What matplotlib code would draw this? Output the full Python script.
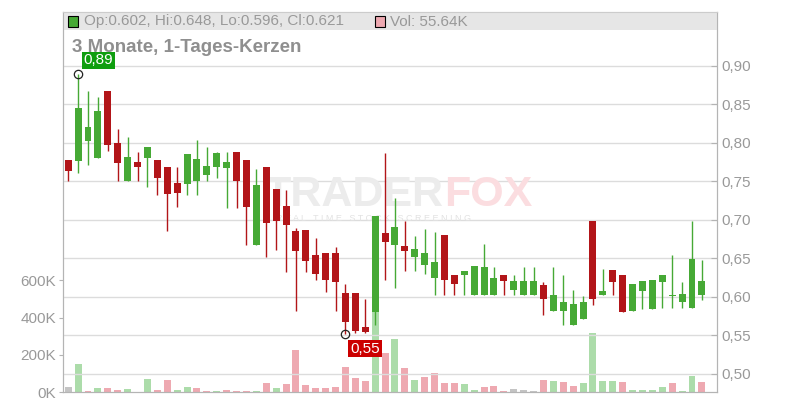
import numpy as np
import matplotlib.pyplot as plt
from matplotlib.patches import Rectangle

plt.rcParams['font.family'] = ['Liberation Sans', 'DejaVu Sans']

# daily candles, 12 Aug .. 10 Nov (trading days)
opens = [0.778, 0.777, 0.802, 0.781, 0.868, 0.800, 0.751, 0.775, 0.780, 0.778,
         0.769, 0.748, 0.747, 0.751, 0.758, 0.769, 0.768, 0.788, 0.778, 0.668,
         0.769, 0.740, 0.718, 0.686, 0.687, 0.655, 0.657, 0.657, 0.605, 0.605,
         0.561, 0.580, 0.683, 0.668, 0.666, 0.652, 0.642, 0.624, 0.681, 0.629,
         0.628, 0.602, 0.602, 0.602, 0.629, 0.609, 0.602, 0.602, 0.616, 0.582,
         0.582, 0.563, 0.572, 0.699, 0.602, 0.635, 0.629, 0.582, 0.608, 0.584,
         0.619, 0.601, 0.593, 0.586, 0.602]
highs = [0.778, 0.890, 0.868, 0.860, 0.868, 0.818, 0.808, 0.788, 0.795, 0.778,
         0.769, 0.769, 0.786, 0.804, 0.795, 0.788, 0.788, 0.788, 0.778, 0.766,
         0.769, 0.740, 0.739, 0.690, 0.687, 0.677, 0.657, 0.665, 0.617, 0.605,
         0.597, 0.705, 0.787, 0.729, 0.699, 0.679, 0.688, 0.684, 0.681, 0.629,
         0.634, 0.640, 0.669, 0.639, 0.629, 0.629, 0.639, 0.639, 0.620, 0.639,
         0.629, 0.609, 0.601, 0.699, 0.636, 0.635, 0.629, 0.617, 0.621, 0.622,
         0.629, 0.655, 0.620, 0.699, 0.648]
lows = [0.751, 0.761, 0.772, 0.781, 0.790, 0.751, 0.751, 0.751, 0.743, 0.732,
        0.686, 0.717, 0.732, 0.732, 0.750, 0.754, 0.716, 0.716, 0.668, 0.668,
        0.652, 0.661, 0.633, 0.582, 0.632, 0.622, 0.606, 0.582, 0.552, 0.553,
        0.553, 0.563, 0.622, 0.612, 0.634, 0.634, 0.630, 0.602, 0.602, 0.602,
        0.602, 0.602, 0.602, 0.602, 0.602, 0.602, 0.602, 0.602, 0.576, 0.582,
        0.563, 0.563, 0.572, 0.590, 0.602, 0.602, 0.580, 0.582, 0.584, 0.584,
        0.586, 0.586, 0.586, 0.586, 0.596]
closes = [0.764, 0.845, 0.821, 0.842, 0.798, 0.774, 0.782, 0.769, 0.795, 0.754,
          0.734, 0.735, 0.786, 0.779, 0.770, 0.787, 0.775, 0.750, 0.717, 0.745,
          0.696, 0.699, 0.693, 0.660, 0.647, 0.630, 0.622, 0.619, 0.567, 0.556,
          0.554, 0.705, 0.672, 0.691, 0.660, 0.662, 0.657, 0.645, 0.622, 0.617,
          0.634, 0.640, 0.639, 0.625, 0.621, 0.621, 0.621, 0.621, 0.597, 0.603,
          0.594, 0.591, 0.594, 0.598, 0.608, 0.619, 0.580, 0.617, 0.621, 0.622,
          0.629, 0.602, 0.604, 0.649, 0.621]
volumes_k = [28.6, 152, 7, 23, 23, 12.5, 18, 1.5, 71, 12.5,
             66, 12.5, 29, 23, 7, 7, 12.5, 7, 7, 7,
             50, 23, 45, 227, 39, 23, 23, 29, 136, 77,
             61, 520, 213, 286, 130, 66, 82, 104, 50, 50,
             45, 12.5, 29, 34, 7, 18, 12.5, 7, 66, 61,
             55, 34, 50, 318, 61, 61, 55, 12.5, 12.5, 12.5,
             29, 50, 7, 88, 55.64]

tick_pos = [1, 15, 25, 37, 47, 59]
tick_labels = ['13. Aug', '2. Sep', '16', '2. Okt', '16', '3. Nov']
price_ticks = [0.50, 0.55, 0.60, 0.65, 0.70, 0.75, 0.80, 0.85, 0.90]
vol_ticks = [0, 200, 400, 600]
vol_labels = ['0K', '200K', '400K', '600K']

GREEN = '#46a935'
RED = '#b21519'
VGREEN = '#acdcaa'
VRED = '#eea9b1'
VGRAY = '#c4c4c4'
TXT = '#999999'

o = np.array(opens); h = np.array(highs); l = np.array(lows); c = np.array(closes)
v = np.array(volumes_k)
x = np.arange(len(o))

fig = plt.figure(figsize=(8, 4.2), dpi=100)
axv = fig.add_axes([0.0791, 0.066, 0.8168, 0.9054])
ax = axv.twinx()
ax.set_zorder(2)
axv.set_zorder(1)
ax.patch.set_visible(False)

# volume
diff = np.diff(c, prepend=np.nan)
vcol = [VGRAY if np.isnan(d) or d == 0 else (VGREEN if d > 0 else VRED) for d in diff]
axv.bar(x, v, width=0.7, color=vcol)
axv.set_ylim(0, 2037)
axv.set_yticks(vol_ticks)
axv.set_yticklabels(vol_labels)

# candles
ccol = [GREEN if cc >= oo else RED for oo, cc in zip(o, c)]
ax.vlines(x, l, h, colors=ccol, linewidth=1, zorder=3)
body = np.maximum(np.abs(c - o), 0.0012)
ax.bar(x, body, bottom=np.minimum(o, c), width=0.7, color=ccol, zorder=4)

ax.set_xlim(-0.5, 65.5)
ax.set_ylim(0.4762, 0.9701)
ax.set_yticks(price_ticks)
ax.set_yticklabels([f'{t:.2f}'.replace('.', ',') for t in price_ticks])
ax.set_xticks(tick_pos)
ax.set_xticklabels(tick_labels)
ax.grid(True, color='#dcdcdc', linewidth=1)
ax.set_axisbelow(True)

for a in (ax, axv):
    for s in a.spines.values():
        s.set_color('#b4b4b4')
    a.spines['top'].set_color('#cccccc')
ax.tick_params(axis='y', direction='in', length=4, color='#b4b4b4', labelcolor=TXT, labelsize=11, pad=3)
axv.tick_params(axis='y', direction='out', length=3, color='#b4b4b4', labelcolor=TXT, labelsize=11, pad=2)
axv.tick_params(axis='x', length=0, labelbottom=False)
ax.tick_params(axis='x', direction='out', length=3, color='#b4b4b4', labelcolor=TXT, labelsize=11, pad=2)
for t in ax.get_xticklabels():
    t.set_fontweight('bold')

# watermark
ax.text(0.308, 0.52, 'TRADER', transform=ax.transAxes, fontsize=31, fontweight='bold',
        color='#ececec', va='center', ha='left', zorder=1)
ax.text(0.583, 0.52, 'FOX', transform=ax.transAxes, fontsize=31, fontweight='bold',
        color='#fbdde0', va='center', ha='left', zorder=1)
ax.text(0.325, 0.456, 'R E A L   T I M E   S T O C K   S C R E E N I N G', transform=ax.transAxes,
        fontsize=6.5, color='#e2e2e2', va='center', ha='left', zorder=1)

# header band and legend
ax.add_patch(Rectangle((0, 1 - 0.0473), 1, 0.0473, transform=ax.transAxes,
                       facecolor='#e6e6e6', edgecolor='none', zorder=0.4))
fig.add_artist(Rectangle((68 / 800, 1 - 26.5 / 420), 10 / 800, 10 / 420, transform=fig.transFigure,
                         facecolor=GREEN, edgecolor='black', lw=0.8, zorder=5))
fig.text(84 / 800, 1 - 21.5 / 420, 'Op:0.602, Hi:0.648, Lo:0.596, Cl:0.621', color=TXT,
         fontsize=11, va='center', ha='left', zorder=5)
fig.add_artist(Rectangle((375 / 800, 1 - 26.5 / 420), 10 / 800, 10 / 420, transform=fig.transFigure,
                         facecolor=VRED, edgecolor='black', lw=0.8, zorder=5))
fig.text(390 / 800, 1 - 21.5 / 420, 'Vol: 55.64K', color=TXT, fontsize=11, va='center', ha='left', zorder=5)
fig.text(72 / 800, 1 - 47 / 420, '3 Monate, 1-Tages-Kerzen', color='#8f8f8f',
         fontsize=13.5, fontweight='bold', va='center', ha='left', zorder=5)

# high / low markers
ih = int(np.argmax(h))
il = int(np.argmin(l))
ax.plot([ih], [h[ih]], 'o', mfc='none', mec='#222222', ms=6, mew=0.9, zorder=6)
ax.plot([il], [l[il]], 'o', mfc='none', mec='#222222', ms=6, mew=0.9, zorder=6)
ax.annotate(f'{h[ih]:.2f}'.replace('.', ','), (ih, h[ih]), xytext=(4, 9.5), textcoords='offset points',
            ha='left', va='center', color='white', fontsize=11, zorder=7,
            bbox=dict(boxstyle='square,pad=0.12', fc='#0f9e0f', ec='none'))
ax.annotate(f'{l[il]:.2f}'.replace('.', ','), (il, l[il]), xytext=(3.5, -10.5), textcoords='offset points',
            ha='left', va='center', color='white', fontsize=11, zorder=7,
            bbox=dict(boxstyle='square,pad=0.12', fc='#cc0000', ec='none'))

fig.savefig('out.png', dpi=100)
